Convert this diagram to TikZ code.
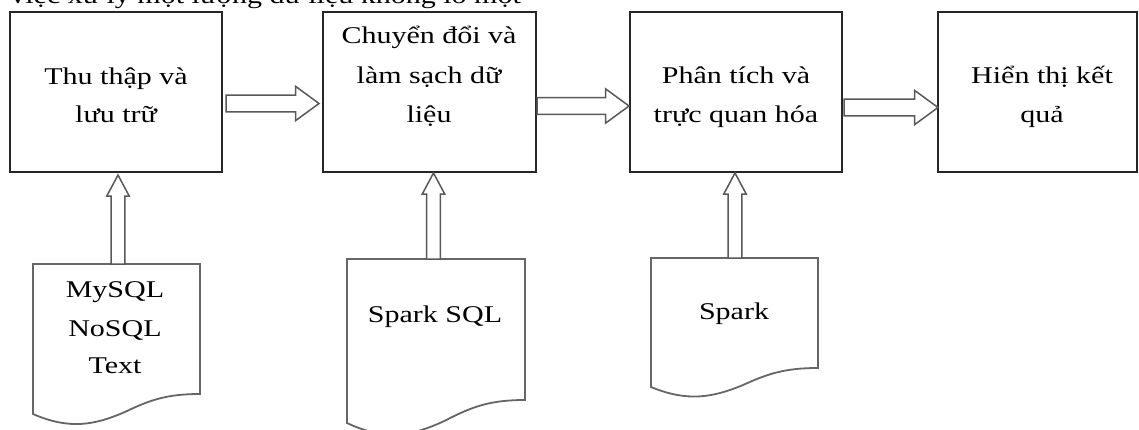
\documentclass[tikz,border=0pt]{standalone}
\usepackage{fontspec}
\setmainfont{Liberation Serif}[FakeStretch=1.25]
\usetikzlibrary{calc}
\tikzset{
  boxnode/.style={draw=black!85, line width=0.8pt, inner sep=0pt, outer sep=0pt, minimum height=80pt},
  docarea/.style={draw=none, inner sep=0pt, outer sep=0pt},
  docline/.style={draw=black!60, line width=0.9pt},
  lbl/.style={anchor=base, inner sep=0pt, font=\fontsize{12}{14}\selectfont},
  blockline/.style={draw=black!65, line width=0.75pt, fill=white},
  harrow/.style={to path={let \p1=(\tikztostart), \p2=(\tikztotarget) in
    (\x1,{\y1+4.2pt}) -- ({\x2-11.75pt},{\y1+4.2pt}) -- ({\x2-11.75pt},{\y1+8.6pt})
    -- (\x2,\y1) -- ({\x2-11.75pt},{\y1-8.6pt}) -- ({\x2-11.75pt},{\y1-4.2pt})
    -- (\x1,{\y1-4.2pt}) -- cycle}},
  varrow/.style={to path={let \p1=(\tikztostart), \p2=(\tikztotarget) in
    ({\x2-3.4pt},\y1) -- ({\x2-3.4pt},{\y2-10.5pt}) -- ({\x2-5.6pt},{\y2-10.5pt})
    -- (\x2,\y2) -- ({\x2+5.6pt},{\y2-10.5pt}) -- ({\x2+3.4pt},{\y2-10.5pt})
    -- ({\x2+3.4pt},\y1) -- cycle}}
}
\newcommand\docoutline[2]{%
  \draw[docline] (#1.north west) -- (#1.north east) -- (#1.south east)
    .. controls ($(#1.south west)!0.8!(#1.south east)$)
           and ($(#1.south west)!0.7!(#1.south east)+(0,-0.3*#2)$)
    .. ($(#1.south west)!0.55!(#1.south east)+(0,-0.9*#2)$)
    .. controls ($(#1.south west)!0.37!(#1.south east)+(0,-1.55*#2)$)
           and ($(#1.south west)!0.22!(#1.south east)+(0,-1.8*#2)$)
    .. ($(#1.south west)+(0,-#2)$) -- cycle;}
\begin{document}
\begin{tikzpicture}[x=0.5pt, y=-0.5pt]
\useasboundingbox (0,0) rectangle (1139,429);
\clip (0,0) rectangle (1139,429);
\fill[white] (0,0) rectangle (1139,429);

% cut-off paragraph line at the top
\node[lbl, anchor=base west] (para) at (10,3) {việc xử lý một lượng dữ liệu khổng lồ một};

% process boxes
\node[boxnode, minimum width=106pt] (b1) at (116,92) {};
\node[boxnode, minimum width=106.5pt] (b2) at (429.5,92) {};
\node[boxnode, minimum width=106pt] (b3) at (736,92) {};
\node[boxnode, minimum width=99.5pt] (b4) at (1037.5,92) {};

\node[lbl] (t1a) at (116,84) {Thu thập và};
\node[lbl] (t1b) at (116,122) {lưu trữ};
\node[lbl] (t2a) at (429,43) {Chuyển đổi và};
\node[lbl] (t2b) at (429,83) {làm sạch dữ};
\node[lbl] (t2c) at (429,122) {liệu};
\node[lbl] (t3a) at (736,83) {Phân tích và};
\node[lbl] (t3b) at (736,122) {trực quan hóa};
\node[lbl] (t4a) at (1042,83) {Hiển thị kết};
\node[lbl] (t4b) at (1042,122) {quả};

% document shapes
\node[docarea, minimum width=83.5pt, minimum height=65pt] (d1) at (116.5,329) {};
\node[docarea, minimum width=89pt, minimum height=70.5pt] (d2) at (436,329.5) {};
\node[docarea, minimum width=83.5pt, minimum height=55pt] (d3) at (734.5,313) {};
\docoutline{d1}{10pt}
\docoutline{d2}{11.5pt}
\docoutline{d3}{9.5pt}

\node[lbl] (s1a) at (115,297) {MySQL};
\node[lbl] (s1b) at (115,336) {NoSQL};
\node[lbl] (s1c) at (115,373) {Text};
\node[lbl] (s2) at (435,322) {Spark SQL};
\node[lbl] (s3) at (734,319) {Spark};

% horizontal block arrows
\draw[blockline] ([xshift=2pt,yshift=-5.75pt]b1.east) to[harrow] ([xshift=-2pt]b2.west);
\draw[blockline] ([xshift=0.5pt,yshift=-7pt]b2.east) to[harrow] ([xshift=-0.5pt]b3.west);
\draw[blockline] ([xshift=1pt,yshift=-7.75pt]b3.east) to[harrow] (b4.west);

% vertical block arrows
\draw[blockline] (d1.north) to[varrow] ([xshift=1pt,yshift=-1.5pt]b1.south);
\draw[blockline] (d2.north) to[varrow] ([xshift=2pt,yshift=-0.5pt]b2.south);
\draw[blockline] (d3.north) to[varrow] ([xshift=-0.5pt,yshift=-0.5pt]b3.south);
\end{tikzpicture}
\end{document}
